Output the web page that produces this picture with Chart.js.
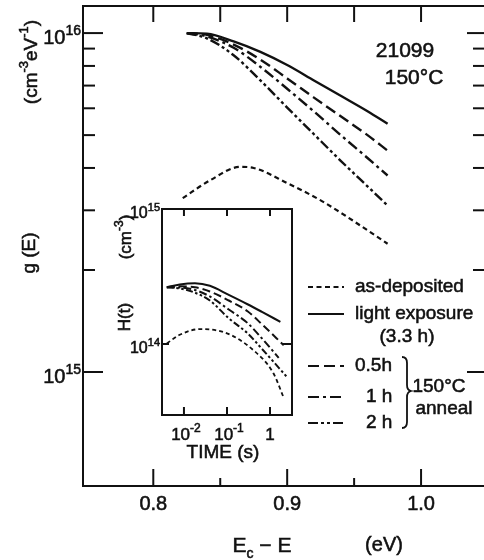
<!DOCTYPE html>
<html>
<head>
<meta charset="utf-8">
<script src="https://cdn.jsdelivr.net/npm/chart.js@4.4.0/dist/chart.umd.min.js"></script>
<style>
  html, body { margin: 0; padding: 0; background: #fff; overflow: hidden; }
  #wrap { position: relative; width: 484px; height: 560px; overflow: hidden; }
  canvas { position: absolute; left: 0; top: 0; }
</style>
</head>
<body>
<div id="wrap">
  <canvas id="chartMain" width="500" height="560" style="width:500px;height:560px"></canvas>
  <canvas id="chartInset" width="500" height="560" style="width:500px;height:560px"></canvas>
</div>
<script>
/*------------------------------- DATA ------------------------------------*/
// g(E) mot Ec - E, prov 21099
const energyAnneal = [0.825, 0.84, 0.86, 0.88, 0.90, 0.92, 0.94, 0.96, 0.975];
const gLight = [1.0e16, 9.96e15, 9.45e15, 8.8e15, 8.05e15, 7.25e15, 6.53e15, 5.88e15, 5.4e15];
const gAnneal05 = [1.0e16, 9.88e15, 9.25e15, 8.35e15, 7.35e15, 6.45e15, 5.68e15, 5.0e15, 4.5e15];
const gAnneal1 = [1.0e16, 9.78e15, 9.05e15, 7.95e15, 6.85e15, 5.87e15, 5.0e15, 4.28e15, 3.8e15];
const gAnneal2 = [1.0e16, 9.65e15, 8.6e15, 7.25e15, 6.03e15, 5.03e15, 4.2e15, 3.53e15, 3.1e15];
const energyDep = [0.822, 0.8425, 0.865, 0.875, 0.90, 0.925, 0.943, 0.975];
const gDep = [3.26e15, 3.68e15, 4.03e15, 4.0e15, 3.61e15, 3.21e15, 2.9e15, 2.39e15];

// H(t) mot tid (inset)
const timeLight = [0.004, 0.008, 0.018, 0.04, 0.11, 0.3, 0.65, 1.74];
const hLight = [2.63e14, 2.76e14, 2.82e14, 2.7e14, 2.31e14, 1.97e14, 1.73e14, 1.46e14];
const timeAnneal05 = [0.004, 0.008, 0.018, 0.04, 0.11, 0.3, 0.65, 2.08];
const hAnneal05 = [2.63e14, 2.68e14, 2.63e14, 2.45e14, 2.1e14, 1.75e14, 1.4e14, 9.8e13];
const timeAnneal1 = [0.004, 0.008, 0.018, 0.04, 0.11, 0.3, 0.65, 1.59];
const hAnneal1 = [2.63e14, 2.62e14, 2.51e14, 2.25e14, 1.8e14, 1.43e14, 1.1e14, 7.9e13];
const timeAnneal2 = [0.004, 0.008, 0.018, 0.04, 0.11, 0.3, 0.65, 2.6];
const hAnneal2 = [2.63e14, 2.58e14, 2.4e14, 2.1e14, 1.55e14, 1.2e14, 9.2e13, 5.6e13];
const timeDep = [0.004, 0.008, 0.024, 0.1, 0.41, 1.19, 2.08];
const hDep = [1.01e14, 1.17e14, 1.29e14, 1.2e14, 9.0e13, 6.1e13, 4.0e13];

// Ticks
const eTicks = [0.8, 0.9, 1.0];
const eTickLabels = ['0.8', '0.9', '1.0'];
const eMinorTicks = [0.85, 0.95];
const gDecades = [1e15, 1e16];
const gDecadeLabels = ['15', '16'];
const gMinorTicks = [2e15, 3e15, 4e15, 5e15, 6e15, 7e15, 8e15, 9e15];
const tDecades = [0.01, 0.1, 1];
const hDecades = [1e14, 1e15];

/*------------------------------- STYLE -----------------------------------*/
const INK = '#111';
const FONT = '"Liberation Sans", Arial, sans-serif';
const dashDep = [5, 3.5];
const dashSolid = [];
const dash05 = [11, 5];
const dash1 = [11, 4, 3, 4];
const dash2 = [10, 3, 3, 3, 3, 3];

function pts(xs, ys) {
  return xs.map((x, i) => ({ x: x, y: ys[i] }));
}

function lineSet(label, xs, ys, dash, width) {
  return {
    label: label,
    data: pts(xs, ys),
    borderColor: INK,
    borderWidth: width,
    borderDash: dash,
    pointRadius: 0,
    fill: false,
    cubicInterpolationMode: 'monotone',
  };
}

//Fyller och stryker texten lite så den blir fetare
function ink(ctx, str, x, y) {
  ctx.lineWidth = 0.55;
  ctx.setLineDash([]);
  ctx.fillText(str, x, y);
  ctx.strokeText(str, x, y);
}

//Ritar text med upphöjda/nedsänkta delar
function richText(ctx, parts, x, y, size, align) {
  const widths = parts.map((p) => {
    ctx.font = (p.sup || p.sub ? Math.round(size * 0.68) : size) + 'px ' + FONT;
    return ctx.measureText(p.t).width;
  });
  const total = widths.reduce((a, b) => a + b, 0);
  let cx = align === 'center' ? x - total / 2 : align === 'right' ? x - total : x;
  ctx.textAlign = 'left';
  ctx.textBaseline = 'alphabetic';
  parts.forEach((p, i) => {
    ctx.font = (p.sup || p.sub ? Math.round(size * 0.68) : size) + 'px ' + FONT;
    let dy = p.sup ? -size * 0.45 : p.sub ? size * 0.28 : 0;
    ink(ctx, p.t, cx, y + dy);
    cx += widths[i];
  });
}

function text(ctx, str, x, y, size, align) {
  ctx.font = size + 'px ' + FONT;
  ctx.textAlign = align || 'left';
  ctx.textBaseline = 'middle';
  ink(ctx, str, x, y);
}

function seg(ctx, x1, y1, x2, y2) {
  ctx.beginPath();
  ctx.moveTo(x1, y1);
  ctx.lineTo(x2, y2);
  ctx.stroke();
}

/*---------------------------- MAIN FRAME ---------------------------------*/
const mainDecor = {
  id: 'mainDecor',
  afterDraw(chart) {
    const ctx = chart.ctx;
    const a = chart.chartArea;
    const xs = chart.scales.x;
    const ys = chart.scales.y;
    ctx.save();
    ctx.strokeStyle = INK;
    ctx.fillStyle = INK;
    ctx.lineWidth = 2;
    ctx.setLineDash([]);
    ctx.strokeRect(a.left, a.top, a.right - a.left, a.bottom - a.top);

    // x ticks
    eTicks.forEach((v, i) => {
      const px = xs.getPixelForValue(v);
      ctx.lineWidth = 2;
      seg(ctx, px, a.bottom, px, a.bottom - 17);
      seg(ctx, px, a.top, px, a.top + 16);
      text(ctx, eTickLabels[i], px, a.bottom + 18, 20, 'center');
    });
    eMinorTicks.forEach((v) => {
      const px = xs.getPixelForValue(v);
      ctx.lineWidth = 2;
      seg(ctx, px, a.bottom, px, a.bottom - 8);
      seg(ctx, px, a.top, px, a.top + 16);
    });

    // y ticks
    gDecades.forEach((v, i) => {
      const py = ys.getPixelForValue(v);
      ctx.lineWidth = 2;
      seg(ctx, a.left, py, a.left + 20, py);
      seg(ctx, a.right, py, a.right - 21, py);
      richText(ctx, [{ t: '10' }, { t: gDecadeLabels[i], sup: true }], a.left - 2, py + 11, 20, 'right');
    });
    gMinorTicks.forEach((v) => {
      const py = ys.getPixelForValue(v);
      ctx.lineWidth = 2;
      seg(ctx, a.left, py, a.left + 12, py);
      seg(ctx, a.right, py, a.right - 15, py);
    });

    // axeltitlar
    ctx.save();
    ctx.translate(30, 253);
    ctx.rotate(-Math.PI / 2);
    text(ctx, 'g (E)', 0, 0, 19, 'center');
    ctx.restore();
    ctx.save();
    ctx.translate(37, 62);
    ctx.rotate(-Math.PI / 2);
    richText(ctx, [{ t: '(cm' }, { t: '-3', sup: true }, { t: 'eV' }, { t: '-1', sup: true }, { t: ')' }], 0, 0, 19, 'center');
    ctx.restore();
    richText(ctx, [{ t: 'E' }, { t: 'c', sub: true }, { t: ' \u2212 E' }], 262, 552, 21, 'center');
    text(ctx, '(eV)', 384, 545, 20, 'center');

    // provinfo
    text(ctx, '21099', 405, 51, 21, 'center');
    text(ctx, '150\u00b0C', 414, 78, 21, 'center');

    // legend
    const legendRows = [
      { dash: dashDep, y: 287, label: 'as-deposited', lx: 355 },
      { dash: dashSolid, y: 314, label: 'light exposure', lx: 355 },
      { dash: dash05, y: 366, label: '0.5h', lx: 355 },
      { dash: dash1, y: 397, label: '1 h', lx: 366 },
      { dash: dash2, y: 423, label: '2 h', lx: 366 },
    ];
    legendRows.forEach((r) => {
      ctx.setLineDash(r.dash);
      ctx.lineWidth = 2.2;
      seg(ctx, 308, r.y, 344, r.y);
      text(ctx, r.label, r.lx, r.y, 19, 'left');
    });
    text(ctx, '(3.3 h)', 407, 337, 19, 'center');

    // klammer för anneal-raderna
    ctx.setLineDash([]);
    ctx.lineWidth = 1.8;
    ctx.beginPath();
    ctx.moveTo(402, 357);
    ctx.quadraticCurveTo(407, 357, 407, 363);
    ctx.lineTo(407, 385);
    ctx.quadraticCurveTo(407, 390, 411, 391);
    ctx.quadraticCurveTo(407, 392, 407, 397);
    ctx.lineTo(407, 422);
    ctx.quadraticCurveTo(407, 428, 402, 428);
    ctx.stroke();
    text(ctx, '150\u00b0C', 439, 387, 19, 'center');
    text(ctx, 'anneal', 444, 409, 19, 'center');
    ctx.restore();
  },
};

/*---------------------------- INSET FRAME --------------------------------*/
const insetDecor = {
  id: 'insetDecor',
  afterDraw(chart) {
    const ctx = chart.ctx;
    const a = chart.chartArea;
    const xs = chart.scales.x;
    const ys = chart.scales.y;
    ctx.save();
    ctx.strokeStyle = INK;
    ctx.fillStyle = INK;
    ctx.lineWidth = 2;
    ctx.setLineDash([]);
    ctx.strokeRect(a.left, a.top, a.right - a.left, a.bottom - a.top);

    const tLabels = [
      [{ t: '10' }, { t: '-2', sup: true }],
      [{ t: '10' }, { t: '-1', sup: true }],
      [{ t: '1' }],
    ];
    tDecades.forEach((v, i) => {
      const px = xs.getPixelForValue(v);
      ctx.lineWidth = 2;
      seg(ctx, px, a.bottom, px, a.bottom - 8);
      seg(ctx, px, a.top, px, a.top + 7);
      richText(ctx, tLabels[i], px + (i < 2 ? 2 : 0), a.bottom + 25, 17, 'center');
    });
    hDecades.forEach((v, i) => {
      const py = ys.getPixelForValue(v);
      ctx.lineWidth = 2;
      seg(ctx, a.left, py, a.left + 7, py);
      seg(ctx, a.right, py, a.right - 9, py);
      richText(ctx, [{ t: '10' }, { t: i === 0 ? '14' : '15', sup: true }], a.left - 2, py + 9, 16, 'right');
    });

    text(ctx, 'TIME (s)', 223, 453, 19, 'center');
    ctx.save();
    ctx.translate(125, 317);
    ctx.rotate(-Math.PI / 2);
    text(ctx, 'H(t)', 0, 0, 17, 'center');
    ctx.restore();
    ctx.save();
    ctx.translate(131, 237);
    ctx.rotate(-Math.PI / 2);
    richText(ctx, [{ t: '(cm' }, { t: '-3', sup: true }, { t: ')' }], 0, 0, 17, 'center');
    ctx.restore();
    ctx.restore();
  },
};

/*------------------------------- CHARTS ----------------------------------*/
const mainChart = new Chart(document.getElementById('chartMain'), {
  type: 'line',
  data: {
    datasets: [
      lineSet('as-deposited', energyDep, gDep, dashDep, 2.2),
      lineSet('light exposure (3.3 h)', energyAnneal, gLight, dashSolid, 2.4),
      lineSet('0.5 h', energyAnneal, gAnneal05, dash05, 2.4),
      lineSet('1 h', energyAnneal, gAnneal1, dash1, 2.4),
      lineSet('2 h', energyAnneal, gAnneal2, dash2, 2.4),
    ],
  },
  options: {
    responsive: false,
    animation: false,
    layout: { padding: { left: 83, top: 6, right: 12, bottom: 74 } },
    plugins: { legend: { display: false }, tooltip: { enabled: false } },
    scales: {
      x: { type: 'linear', min: 0.7475, max: 1.05, display: false },
      y: { type: 'logarithmic', min: 4.61e14, max: 1.202e16, display: false },
    },
  },
  plugins: [mainDecor],
});

const insetChart = new Chart(document.getElementById('chartInset'), {
  type: 'line',
  data: {
    datasets: [
      lineSet('as-deposited', timeDep, hDep, [4, 3], 1.8),
      lineSet('light exposure', timeLight, hLight, dashSolid, 2),
      lineSet('0.5 h', timeAnneal05, hAnneal05, [8, 4], 2),
      lineSet('1 h', timeAnneal1, hAnneal1, [8, 3, 2.5, 3], 2),
      lineSet('2 h', timeAnneal2, hAnneal2, [7, 2.5, 2.5, 2.5, 2.5, 2.5], 2),
    ],
  },
  options: {
    responsive: false,
    animation: false,
    layout: { padding: { left: 162, top: 209, right: 208, bottom: 145 } },
    plugins: { legend: { display: false }, tooltip: { enabled: false } },
    scales: {
      x: { type: 'logarithmic', min: 3.09e-3, max: 3.24, display: false },
      y: { type: 'logarithmic', min: 2.98e13, max: 1e15, display: false },
    },
  },
  plugins: [insetDecor],
});
</script>
</body>
</html>
